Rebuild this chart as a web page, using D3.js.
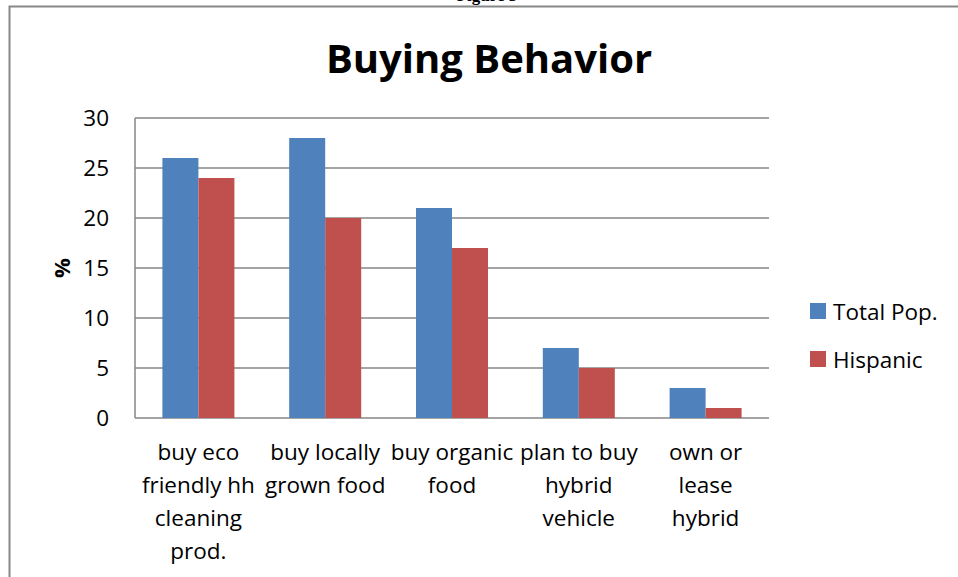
<!DOCTYPE html>
<html>
<head>
<meta charset="utf-8">
<script src="https://cdn.jsdelivr.net/npm/d3@7"></script>
<style>
  body { margin: 0; background: #fff; }
  svg { display: block; }
</style>
</head>
<body>
<div id="container"></div>
<script>
let categories = [
  ["buy eco", "friendly hh", "cleaning", "prod."],
  ["buy locally", "grown food"],
  ["buy organic", "food"],
  ["plan to buy", "hybrid", "vehicle"],
  ["own or", "lease", "hybrid"]
];
let seriesNames = ["Total Pop.", "Hispanic"];
let totalPop = [26, 28, 21, 7, 3];
let hispanic = [24, 20, 17, 5, 1];
let yTicks = [0, 5, 10, 15, 20, 25, 30];
let colors = ["#4F81BD", "#C0504D"];

let w = 958;
let h = 577;
let font = "'Open Sans', sans-serif";

let viz = d3.select("#container")
  .append("svg")
    .attr("width", w)
    .attr("height", h)
;

// caption of the page above, clipped by the top edge as in the scan
viz.append("text")
  .attr("x", 487)
  .attr("y", 1)
  .attr("text-anchor", "middle")
  .attr("font-family", "'Liberation Serif', serif")
  .attr("font-weight", "bold")
  .attr("font-size", "17px")
  .text("Figure 3");

// chart frame
viz.append("path")
  .attr("d", "M9.5,577 V6.5 H958")
  .attr("fill", "none")
  .attr("stroke", "#878787")
  .attr("stroke-width", 2);

viz.append("text")
  .attr("x", 489)
  .attr("y", 73)
  .attr("text-anchor", "middle")
  .attr("font-family", font)
  .attr("font-weight", "bold")
  .attr("font-size", "40px")
  .text("Buying Behavior");

let plotLeft = 135, plotRight = 769, plotTop = 118, plotBottom = 418;

let xScale = d3.scaleBand()
  .domain(d3.range(categories.length))
  .range([plotLeft, plotRight])
  .paddingInner(0)
  .paddingOuter(0);

let yScale = d3.scaleLinear().domain([0, 30]).range([plotBottom, plotTop]);

// gridlines
viz.append("g")
  .selectAll("line")
  .data(yTicks)
  .enter()
  .append("line")
    .attr("x1", plotLeft)
    .attr("x2", plotRight)
    .attr("y1", d => yScale(d))
    .attr("y2", d => yScale(d))
    .attr("stroke", "#868686")
    .attr("stroke-width", 1.5);

viz.append("line")
  .attr("x1", plotLeft).attr("x2", plotLeft)
  .attr("y1", plotTop).attr("y2", plotBottom)
  .attr("stroke", "#868686")
  .attr("stroke-width", 1.5);

let yAxis = d3.axisLeft(yScale).tickValues(yTicks).tickSize(0).tickPadding(0);
let yAxisGroup = viz.append("g")
  .attr("transform", "translate(" + (plotLeft - 26) + ",0)")
  .call(yAxis);
yAxisGroup.select(".domain").remove();
yAxisGroup.selectAll("text")
  .attr("font-family", font)
  .attr("font-size", "22.5px")
  .attr("fill", "#000")
  .attr("dy", "0.35em");

viz.append("text")
  .attr("transform", "translate(70,268) rotate(-90)")
  .attr("text-anchor", "middle")
  .attr("font-family", font)
  .attr("font-weight", "bold")
  .attr("font-size", "22px")
  .text("%");

// bars
let barW = 36;
let data = [totalPop, hispanic];
data.forEach(function(vals, s){
  viz.append("g")
    .selectAll("rect")
    .data(vals)
    .enter()
    .append("rect")
      .attr("x", (d, i) => xScale(i) + xScale.bandwidth() / 2 - barW + s * barW)
      .attr("width", barW)
      .attr("y", d => yScale(d))
      .attr("height", d => yScale(0) - yScale(d))
      .attr("fill", colors[s]);
});

// category labels
let catGroups = viz.append("g")
  .selectAll("text")
  .data(categories)
  .enter()
  .append("text")
    .attr("text-anchor", "middle")
    .attr("font-family", font)
    .attr("font-size", "22.5px")
    .attr("fill", "#000");
catGroups.selectAll("tspan")
  .data((d, i) => d.map(t => ({t: t, i: i})))
  .enter()
  .append("tspan")
    .attr("x", d => xScale(d.i) + xScale.bandwidth() / 2)
    .attr("y", (d, j) => 460 + j * 33)
    .text(d => d.t);

// legend
let legend = viz.append("g")
  .selectAll("g")
  .data(seriesNames)
  .enter()
  .append("g")
    .attr("transform", (d, i) => "translate(810," + (303 + i * 48) + ")");
legend.append("rect")
  .attr("width", 16)
  .attr("height", 16)
  .attr("fill", (d, i) => colors[i]);
legend.append("text")
  .attr("x", 23)
  .attr("y", 17)
  .attr("font-family", font)
  .attr("font-size", "22.5px")
  .text(d => d);
</script>
</body>
</html>
